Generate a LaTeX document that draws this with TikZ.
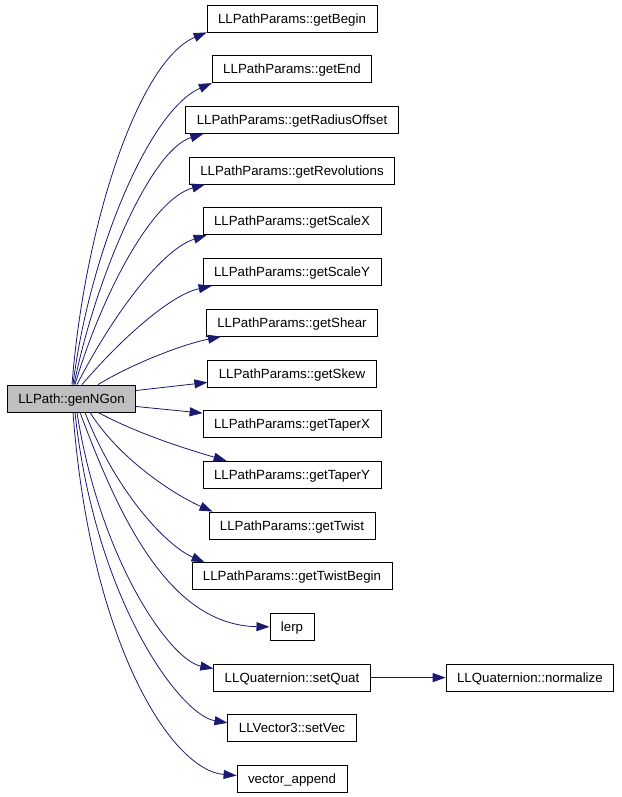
\documentclass[tikz,border=0pt]{standalone}
\usepackage{fontspec}
\setmainfont{Liberation Sans}
\usetikzlibrary{positioning,arrows.meta}
\definecolor{edgeblue}{RGB}{25,25,112}
\definecolor{mainfill}{RGB}{191,191,191}

\begin{document}
\begin{tikzpicture}[x=1pt, y=-1pt, node distance=22.9pt,
    func/.style={draw, rectangle, line width=0.8pt, minimum height=27pt,
        inner xsep=11pt, text height=11.8pt, text depth=2.5pt,
        font=\fontsize{13.3}{16}\selectfont},
    call/.style={draw=edgeblue, line width=0.8pt, -{Triangle[length=13pt,width=9pt]}}]
        \useasboundingbox (0,0) rectangle (621,797);

        % Nodes
        \node (main) [func, fill=mainfill] at (71.5,398.5) {LLPath::genNGon};
        \node (begin) [func] at (292,18.5) {LLPathParams::getBegin};
        \node (end) [func, below=of begin] {LLPathParams::getEnd};
        \node (radius) [func, below=of end] {LLPathParams::getRadiusOffset};
        \node (revol) [func, below=of radius] {LLPathParams::getRevolutions};
        \node (scalex) [func, below=of revol] {LLPathParams::getScaleX};
        \node (scaley) [func, below=of scalex] {LLPathParams::getScaleY};
        \node (shear) [func, below=of scaley] {LLPathParams::getShear};
        \node (skew) [func, below=of shear] {LLPathParams::getSkew};
        \node (taperx) [func, below=of skew] {LLPathParams::getTaperX};
        \node (tapery) [func, below=of taperx] {LLPathParams::getTaperY};
        \node (twist) [func, below=of tapery] {LLPathParams::getTwist};
        \node (twistbegin) [func, below=of twist] {LLPathParams::getTwistBegin};
        \node (lerp) [func, below=of twistbegin] {lerp};
        \node (setquat) [func, below=of lerp] {LLQuaternion::setQuat};
        \node (setvec) [func, below=of setquat] {LLVector3::setVec};
        \node (append) [func, below=of setvec] {vector\_append};
        \node (normalize) [func, right=75pt of setquat] {LLQuaternion::normalize};

        % Edges
        \draw[call] ([xshift=0.5pt]main.north) .. controls (85,220) and (140,60) .. (begin.south west);
        \draw[call] ([xshift=1.5pt]main.north) .. controls (90,250) and (150,110) .. (end.south west);
        \draw[call] ([xshift=2.5pt]main.north) .. controls (95,280) and (150,150) .. ([xshift=18pt]radius.south west);
        \draw[call] ([xshift=3.5pt]main.north) .. controls (100,300) and (150,200) .. ([xshift=16pt]revol.south west);
        \draw[call] ([xshift=5.5pt]main.north) .. controls (110,320) and (160,250) .. ([xshift=4pt]scalex.south west);
        \draw[call] ([xshift=10.5pt]main.north) .. controls (120,340) and (170,295) .. ([xshift=9pt]scaley.south west);
        \draw[call] ([xshift=26.5pt]main.north) .. controls (130,365) and (180,345) .. ([xshift=15pt]shear.south west);
        \draw[call] ([yshift=8pt]main.east) -- ([yshift=-9pt]skew.west);
        \draw[call] ([yshift=-8pt]main.east) -- ([yshift=11pt]taperx.west);
        \draw[call] ([xshift=26.5pt]main.south) .. controls (140,435) and (190,450) .. ([xshift=24pt]tapery.north west);
        \draw[call] ([xshift=18.5pt]main.south) .. controls (120,460) and (175,495) .. ([xshift=4pt]twist.north west);
        \draw[call] ([xshift=13.5pt]main.south) .. controls (115,490) and (165,545) .. ([xshift=13pt]twistbegin.north west);
        \draw[call] ([xshift=8.5pt]main.south) .. controls (120,520) and (170,625) .. (lerp.west);
        \draw[call] ([xshift=5.5pt]main.south) .. controls (100,560) and (170,660) .. ([yshift=9pt]setquat.west);
        \draw[call] ([xshift=3.5pt]main.south) .. controls (95,600) and (180,715) .. ([yshift=5.5pt]setvec.west);
        \draw[call] ([xshift=1.5pt]main.south) .. controls (90,640) and (170,770) .. ([yshift=3.5pt]append.west);
        \draw[call] (setquat) -- (normalize);
    \end{tikzpicture}
\end{document}
